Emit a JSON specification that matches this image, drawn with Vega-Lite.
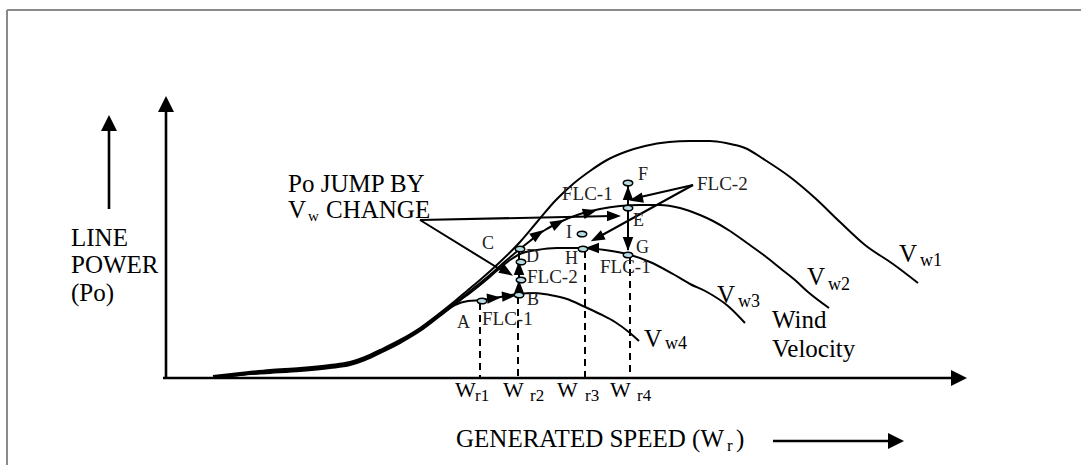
{
  "$schema": "https://vega.github.io/schema/vega-lite/v6.json",
  "width": 1081,
  "height": 465,
  "padding": 0,
  "autosize": {"type": "none"},
  "background": "white",
  "config": {"view": {"stroke": null}, "text": {"font": "'Liberation Serif', 'Times New Roman', 'DejaVu Serif', serif"}},
  "datasets": {
    "frame": [
      {"x": 7, "y": 10, "x2": 1081, "y2": 10},
      {"x": 7, "y": 10, "x2": 7, "y2": 465}
    ],
    "axes": [
      {"x": 166, "y": 378, "x2": 166, "y2": 110},
      {"x": 163, "y": 378, "x2": 952, "y2": 378},
      {"x": 109, "y": 209, "x2": 109, "y2": 128},
      {"x": 773, "y": 441, "x2": 890, "y2": 441}
    ],
    "pointers": [
      {"x": 420, "y": 220, "x2": 612, "y2": 216},
      {"x": 420, "y": 220, "x2": 506, "y2": 273},
      {"x": 519, "y": 295, "x2": 519, "y2": 252},
      {"x": 628, "y": 185, "x2": 628, "y2": 250},
      {"x": 693, "y": 185, "x2": 636, "y2": 198},
      {"x": 693, "y": 185, "x2": 595, "y2": 239}
    ],
    "dashed": [
      {"x": 480, "y": 303, "x2": 480, "y2": 378},
      {"x": 518, "y": 297, "x2": 518, "y2": 378},
      {"x": 585, "y": 251, "x2": 585, "y2": 378},
      {"x": 630, "y": 257, "x2": 630, "y2": 378}
    ],
    "curves": [
      {"c": "Vw1", "o": 1, "x": 213, "y": 376}, {"c": "Vw1", "o": 2, "x": 240, "y": 373}, {"c": "Vw1", "o": 3, "x": 270, "y": 370}, {"c": "Vw1", "o": 4, "x": 300, "y": 368}, {"c": "Vw1", "o": 5, "x": 330, "y": 365}, {"c": "Vw1", "o": 6, "x": 350, "y": 362}, {"c": "Vw1", "o": 7, "x": 365, "y": 357}, {"c": "Vw1", "o": 8, "x": 380, "y": 350}, {"c": "Vw1", "o": 9, "x": 400, "y": 340}, {"c": "Vw1", "o": 10, "x": 420, "y": 328}, {"c": "Vw1", "o": 11, "x": 440, "y": 313}, {"c": "Vw1", "o": 12, "x": 455, "y": 301}, {"c": "Vw1", "o": 13, "x": 468, "y": 290}, {"c": "Vw1", "o": 14, "x": 480, "y": 280}, {"c": "Vw1", "o": 15, "x": 500, "y": 262}, {"c": "Vw1", "o": 16, "x": 520, "y": 242}, {"c": "Vw1", "o": 17, "x": 537, "y": 222}, {"c": "Vw1", "o": 18, "x": 555, "y": 201}, {"c": "Vw1", "o": 19, "x": 573, "y": 184}, {"c": "Vw1", "o": 20, "x": 590, "y": 171}, {"c": "Vw1", "o": 21, "x": 607, "y": 160}, {"c": "Vw1", "o": 22, "x": 625, "y": 152}, {"c": "Vw1", "o": 23, "x": 645, "y": 146}, {"c": "Vw1", "o": 24, "x": 669, "y": 142}, {"c": "Vw1", "o": 25, "x": 690, "y": 141}, {"c": "Vw1", "o": 26, "x": 710, "y": 141}, {"c": "Vw1", "o": 27, "x": 726, "y": 143}, {"c": "Vw1", "o": 28, "x": 745, "y": 148}, {"c": "Vw1", "o": 29, "x": 765, "y": 160}, {"c": "Vw1", "o": 30, "x": 790, "y": 177}, {"c": "Vw1", "o": 31, "x": 815, "y": 198}, {"c": "Vw1", "o": 32, "x": 840, "y": 222}, {"c": "Vw1", "o": 33, "x": 865, "y": 245}, {"c": "Vw1", "o": 34, "x": 893, "y": 264}, {"c": "Vw1", "o": 35, "x": 918, "y": 283},
      {"c": "Vw2", "o": 1, "x": 214, "y": 377}, {"c": "Vw2", "o": 2, "x": 240, "y": 374}, {"c": "Vw2", "o": 3, "x": 270, "y": 371}, {"c": "Vw2", "o": 4, "x": 300, "y": 369}, {"c": "Vw2", "o": 5, "x": 330, "y": 366}, {"c": "Vw2", "o": 6, "x": 350, "y": 363}, {"c": "Vw2", "o": 7, "x": 365, "y": 358}, {"c": "Vw2", "o": 8, "x": 380, "y": 351}, {"c": "Vw2", "o": 9, "x": 400, "y": 341}, {"c": "Vw2", "o": 10, "x": 420, "y": 329}, {"c": "Vw2", "o": 11, "x": 440, "y": 314}, {"c": "Vw2", "o": 12, "x": 455, "y": 303}, {"c": "Vw2", "o": 13, "x": 470, "y": 291}, {"c": "Vw2", "o": 14, "x": 485, "y": 279}, {"c": "Vw2", "o": 15, "x": 500, "y": 266}, {"c": "Vw2", "o": 16, "x": 515, "y": 253}, {"c": "Vw2", "o": 17, "x": 530, "y": 241}, {"c": "Vw2", "o": 18, "x": 545, "y": 230}, {"c": "Vw2", "o": 19, "x": 560, "y": 222}, {"c": "Vw2", "o": 20, "x": 580, "y": 214}, {"c": "Vw2", "o": 21, "x": 600, "y": 209}, {"c": "Vw2", "o": 22, "x": 620, "y": 206}, {"c": "Vw2", "o": 23, "x": 640, "y": 205}, {"c": "Vw2", "o": 24, "x": 660, "y": 205}, {"c": "Vw2", "o": 25, "x": 680, "y": 208}, {"c": "Vw2", "o": 26, "x": 700, "y": 215}, {"c": "Vw2", "o": 27, "x": 713, "y": 221}, {"c": "Vw2", "o": 28, "x": 730, "y": 231}, {"c": "Vw2", "o": 29, "x": 747, "y": 243}, {"c": "Vw2", "o": 30, "x": 765, "y": 256}, {"c": "Vw2", "o": 31, "x": 780, "y": 268}, {"c": "Vw2", "o": 32, "x": 795, "y": 280}, {"c": "Vw2", "o": 33, "x": 808, "y": 292}, {"c": "Vw2", "o": 34, "x": 829, "y": 308},
      {"c": "Vw3", "o": 1, "x": 215, "y": 378}, {"c": "Vw3", "o": 2, "x": 240, "y": 375}, {"c": "Vw3", "o": 3, "x": 270, "y": 372}, {"c": "Vw3", "o": 4, "x": 300, "y": 370}, {"c": "Vw3", "o": 5, "x": 330, "y": 367}, {"c": "Vw3", "o": 6, "x": 350, "y": 364}, {"c": "Vw3", "o": 7, "x": 365, "y": 359}, {"c": "Vw3", "o": 8, "x": 380, "y": 352}, {"c": "Vw3", "o": 9, "x": 400, "y": 342}, {"c": "Vw3", "o": 10, "x": 420, "y": 330}, {"c": "Vw3", "o": 11, "x": 440, "y": 315}, {"c": "Vw3", "o": 12, "x": 455, "y": 304}, {"c": "Vw3", "o": 13, "x": 470, "y": 293}, {"c": "Vw3", "o": 14, "x": 485, "y": 281}, {"c": "Vw3", "o": 15, "x": 500, "y": 268}, {"c": "Vw3", "o": 16, "x": 510, "y": 260}, {"c": "Vw3", "o": 17, "x": 520, "y": 254}, {"c": "Vw3", "o": 18, "x": 537, "y": 250}, {"c": "Vw3", "o": 19, "x": 557, "y": 248}, {"c": "Vw3", "o": 20, "x": 583, "y": 248}, {"c": "Vw3", "o": 21, "x": 605, "y": 250}, {"c": "Vw3", "o": 22, "x": 627, "y": 254}, {"c": "Vw3", "o": 23, "x": 650, "y": 262}, {"c": "Vw3", "o": 24, "x": 673, "y": 274}, {"c": "Vw3", "o": 25, "x": 690, "y": 284}, {"c": "Vw3", "o": 26, "x": 707, "y": 292}, {"c": "Vw3", "o": 27, "x": 728, "y": 306}, {"c": "Vw3", "o": 28, "x": 745, "y": 323},
      {"c": "Vw4", "o": 1, "x": 216, "y": 378}, {"c": "Vw4", "o": 2, "x": 240, "y": 375}, {"c": "Vw4", "o": 3, "x": 270, "y": 373}, {"c": "Vw4", "o": 4, "x": 300, "y": 371}, {"c": "Vw4", "o": 5, "x": 330, "y": 368}, {"c": "Vw4", "o": 6, "x": 350, "y": 365}, {"c": "Vw4", "o": 7, "x": 365, "y": 360}, {"c": "Vw4", "o": 8, "x": 380, "y": 353}, {"c": "Vw4", "o": 9, "x": 400, "y": 343}, {"c": "Vw4", "o": 10, "x": 420, "y": 331}, {"c": "Vw4", "o": 11, "x": 440, "y": 316}, {"c": "Vw4", "o": 12, "x": 455, "y": 305}, {"c": "Vw4", "o": 13, "x": 468, "y": 301}, {"c": "Vw4", "o": 14, "x": 482, "y": 300}, {"c": "Vw4", "o": 15, "x": 500, "y": 297}, {"c": "Vw4", "o": 16, "x": 518, "y": 294}, {"c": "Vw4", "o": 17, "x": 535, "y": 293}, {"c": "Vw4", "o": 18, "x": 550, "y": 295}, {"c": "Vw4", "o": 19, "x": 567, "y": 299}, {"c": "Vw4", "o": 20, "x": 583, "y": 306}, {"c": "Vw4", "o": 21, "x": 600, "y": 314}, {"c": "Vw4", "o": 22, "x": 615, "y": 322}, {"c": "Vw4", "o": 23, "x": 630, "y": 333}, {"c": "Vw4", "o": 24, "x": 639, "y": 341}
    ],
    "heads": [
      {"kind": "axis", "x": 166, "y": 104, "dir": 0},
      {"kind": "axis", "x": 109, "y": 123, "dir": 0},
      {"kind": "axis", "x": 959, "y": 378, "dir": 90},
      {"kind": "axis", "x": 896, "y": 441, "dir": 90},
      {"kind": "path", "x": 494, "y": 298, "dir": 85},
      {"kind": "path", "x": 509, "y": 296, "dir": 85},
      {"kind": "path", "x": 519, "y": 287, "dir": 0},
      {"kind": "path", "x": 519, "y": 268, "dir": 0},
      {"kind": "path", "x": 507, "y": 272, "dir": 122},
      {"kind": "path", "x": 538, "y": 234, "dir": 55},
      {"kind": "path", "x": 558, "y": 223, "dir": 62},
      {"kind": "path", "x": 590, "y": 212, "dir": 75},
      {"kind": "path", "x": 614, "y": 216, "dir": 90},
      {"kind": "path", "x": 628, "y": 193, "dir": 0},
      {"kind": "path", "x": 636, "y": 199, "dir": 258},
      {"kind": "path", "x": 628, "y": 244, "dir": 180},
      {"kind": "path", "x": 597, "y": 238, "dir": 243},
      {"kind": "path", "x": 592, "y": 248, "dir": 270}
    ],
    "markers": [
      {"p": "A", "x": 482, "y": 301}, {"p": "B", "x": 519, "y": 295}, {"p": "B2", "x": 521, "y": 280}, {"p": "B3", "x": 521, "y": 262}, {"p": "D", "x": 520, "y": 249},
      {"p": "E", "x": 628, "y": 208}, {"p": "F", "x": 628, "y": 183}, {"p": "G", "x": 628, "y": 255}, {"p": "H", "x": 583, "y": 249}, {"p": "I", "x": 582, "y": 234}
    ],
    "texts": [
      {"role": "big", "t": "LINE", "x": 71, "y": 246},
      {"role": "big", "t": "POWER", "x": 71, "y": 273},
      {"role": "big", "t": "(Po)", "x": 71, "y": 301},
      {"role": "big", "t": "Po JUMP BY", "x": 288, "y": 192},
      {"role": "big", "t": "V", "x": 288, "y": 218},
      {"role": "big", "t": "CHANGE", "x": 326, "y": 218},
      {"role": "big", "t": "Wind", "x": 772, "y": 328},
      {"role": "big", "t": "Velocity", "x": 772, "y": 357},
      {"role": "big", "t": "GENERATED SPEED (W", "x": 456, "y": 447},
      {"role": "big", "t": ")", "x": 736, "y": 447},
      {"role": "big", "t": "V", "x": 899, "y": 262},
      {"role": "big", "t": "V", "x": 807, "y": 285},
      {"role": "big", "t": "V", "x": 717, "y": 303},
      {"role": "big", "t": "V", "x": 644, "y": 347},
      {"role": "w", "t": "W", "x": 455, "y": 397},
      {"role": "w", "t": "W", "x": 503, "y": 397},
      {"role": "w", "t": "W", "x": 557, "y": 397},
      {"role": "w", "t": "W", "x": 610, "y": 397},
      {"role": "sub", "t": "w1", "x": 920, "y": 266},
      {"role": "sub", "t": "w2", "x": 828, "y": 290},
      {"role": "sub", "t": "w3", "x": 738, "y": 307},
      {"role": "sub", "t": "w4", "x": 665, "y": 349},
      {"role": "subr", "t": "r1", "x": 475, "y": 401},
      {"role": "subr", "t": "r2", "x": 530, "y": 401},
      {"role": "subr", "t": "r3", "x": 585, "y": 401},
      {"role": "subr", "t": "r4", "x": 637, "y": 401},
      {"role": "subr", "t": "r", "x": 727, "y": 451},
      {"role": "subsmall", "t": "w", "x": 308, "y": 221},
      {"role": "flc", "t": "FLC-1", "x": 482, "y": 325},
      {"role": "flc", "t": "FLC-2", "x": 527, "y": 283},
      {"role": "flc", "t": "FLC-1", "x": 562, "y": 200},
      {"role": "flc", "t": "FLC-2", "x": 697, "y": 190},
      {"role": "flc", "t": "FLC-1", "x": 600, "y": 273},
      {"role": "pt", "t": "A", "x": 457, "y": 328},
      {"role": "pt", "t": "B", "x": 527, "y": 305},
      {"role": "pt", "t": "C", "x": 482, "y": 249},
      {"role": "pt", "t": "D", "x": 526, "y": 262},
      {"role": "pt", "t": "E", "x": 633, "y": 226},
      {"role": "pt", "t": "F", "x": 638, "y": 180},
      {"role": "pt", "t": "G", "x": 636, "y": 253},
      {"role": "pt", "t": "H", "x": 565, "y": 264},
      {"role": "pt", "t": "I", "x": 566, "y": 238}
    ]
  },
  "encoding": {
    "x": {"field": "x", "type": "quantitative", "scale": {"domain": [0, 1081], "nice": false, "zero": false}, "axis": null},
    "y": {"field": "y", "type": "quantitative", "scale": {"domain": [0, 465], "nice": false, "zero": false, "reverse": true}, "axis": null}
  },
  "layer": [
    {
      "data": {"name": "frame"},
      "mark": {"type": "rule", "color": "#8a8a8a", "strokeWidth": 2},
      "encoding": {"x2": {"field": "x2"}, "y2": {"field": "y2"}}
    },
    {
      "data": {"name": "axes"},
      "mark": {"type": "rule", "color": "black", "strokeWidth": 2.6},
      "encoding": {"x2": {"field": "x2"}, "y2": {"field": "y2"}}
    },
    {
      "data": {"name": "dashed"},
      "mark": {"type": "rule", "color": "black", "strokeWidth": 2, "strokeDash": [7, 5]},
      "encoding": {"x2": {"field": "x2"}, "y2": {"field": "y2"}}
    },
    {
      "data": {"name": "curves"},
      "mark": {"type": "line", "color": "black", "strokeWidth": 2, "interpolate": "monotone"},
      "encoding": {"detail": {"field": "c"}, "order": {"field": "o", "type": "quantitative"}}
    },
    {
      "data": {"name": "pointers"},
      "mark": {"type": "rule", "color": "black", "strokeWidth": 2},
      "encoding": {"x2": {"field": "x2"}, "y2": {"field": "y2"}}
    },
    {
      "data": {"name": "heads"},
      "transform": [{"filter": "datum.kind === 'axis'"}],
      "mark": {"type": "point", "shape": "M0,-1L1,1L-1,1Z", "filled": true, "color": "black", "opacity": 1, "size": 256},
      "encoding": {"angle": {"field": "dir", "type": "quantitative", "scale": null}}
    },
    {
      "data": {"name": "heads"},
      "transform": [{"filter": "datum.kind === 'path'"}],
      "mark": {"type": "point", "shape": "M0,-1L0.75,1L-0.75,1Z", "filled": true, "color": "black", "opacity": 1, "size": 196},
      "encoding": {"angle": {"field": "dir", "type": "quantitative", "scale": null}}
    },
    {
      "data": {"name": "markers"},
      "mark": {"type": "point", "shape": "M-1,0A1,0.6,0,1,0,1,0A1,0.6,0,1,0,-1,0Z", "filled": true, "fill": "#b7dbe2", "stroke": "black", "strokeWidth": 1.5, "opacity": 1, "size": 90}
    },
    {
      "data": {"name": "texts"},
      "transform": [{"filter": "datum.role === 'big'"}],
      "mark": {"type": "text", "fontSize": 25, "align": "left", "baseline": "alphabetic", "color": "black"},
      "encoding": {"text": {"field": "t"}}
    },
    {
      "data": {"name": "texts"},
      "transform": [{"filter": "datum.role === 'w'"}],
      "mark": {"type": "text", "fontSize": 22, "align": "left", "baseline": "alphabetic", "color": "black"},
      "encoding": {"text": {"field": "t"}}
    },
    {
      "data": {"name": "texts"},
      "transform": [{"filter": "datum.role === 'sub'"}],
      "mark": {"type": "text", "fontSize": 18, "align": "left", "baseline": "alphabetic", "color": "black"},
      "encoding": {"text": {"field": "t"}}
    },
    {
      "data": {"name": "texts"},
      "transform": [{"filter": "datum.role === 'subr'"}],
      "mark": {"type": "text", "fontSize": 17, "align": "left", "baseline": "alphabetic", "color": "black"},
      "encoding": {"text": {"field": "t"}}
    },
    {
      "data": {"name": "texts"},
      "transform": [{"filter": "datum.role === 'subsmall'"}],
      "mark": {"type": "text", "fontSize": 15, "align": "left", "baseline": "alphabetic", "color": "black"},
      "encoding": {"text": {"field": "t"}}
    },
    {
      "data": {"name": "texts"},
      "transform": [{"filter": "datum.role === 'flc'"}],
      "mark": {"type": "text", "fontSize": 19, "align": "left", "baseline": "alphabetic", "color": "#222222"},
      "encoding": {"text": {"field": "t"}}
    },
    {
      "data": {"name": "texts"},
      "transform": [{"filter": "datum.role === 'pt'"}],
      "mark": {"type": "text", "fontSize": 18, "align": "left", "baseline": "alphabetic", "color": "#222222"},
      "encoding": {"text": {"field": "t"}}
    }
  ]
}
